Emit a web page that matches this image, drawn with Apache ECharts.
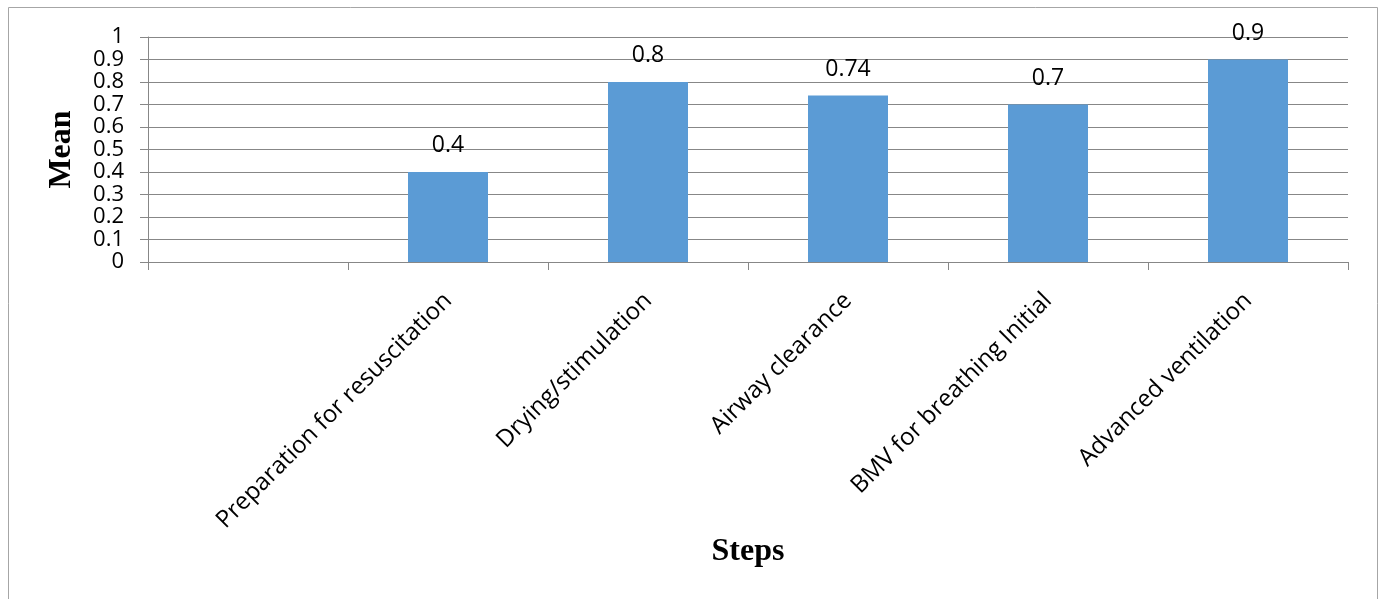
<!DOCTYPE html>
<html><head><meta charset="utf-8">
<script src="https://cdn.jsdelivr.net/npm/echarts@6/dist/echarts.min.js"></script>
<style>html,body{margin:0;padding:0;background:#fff}#c{width:1382px;height:599px}</style>
</head><body><div id="c"></div>
<script>
const categories = ["", "Preparation for resuscitation", "Drying/stimulation", "Airway clearance", "BMV for breathing Initial", "Advanced ventilation"];
const meanValues = [null, 0.4, 0.8, 0.74, 0.7, 0.9];
const yTicks = ["0","0.1","0.2","0.3","0.4","0.5","0.6","0.7","0.8","0.9","1"];

const chart = echarts.init(document.getElementById('c'), null, {renderer:'canvas'});
const grey = '#878787';
chart.setOption({
  animation:false,
  graphic:[{type:'rect', shape:{x:8.5,y:7.5,width:1369,height:600}, style:{fill:null, stroke:'#a6a6a6', lineWidth:1}, silent:true}],
  grid:{left:148, right:34, top:37, bottom:337},
  xAxis:{
    type:'category', data:categories, boundaryGap:true,
    axisLine:{lineStyle:{color:grey,width:1}},
    axisTick:{show:true, length:8, lineStyle:{color:grey}},
    axisLabel:{rotate:45, interval:0, margin:35, color:'#000', fontFamily:'Open Sans', fontSize:24},
    name:'Steps', nameLocation:'middle', nameGap:274,
    nameTextStyle:{fontFamily:'Liberation Serif', fontWeight:'bold', fontSize:32, color:'#000'}
  },
  yAxis:{
    type:'value', min:0, max:1, interval:0.1,
    axisLine:{show:true, lineStyle:{color:grey,width:1}},
    axisTick:{show:true, length:8, lineStyle:{color:grey}},
    splitLine:{show:true, lineStyle:{color:grey,width:1}},
    axisLabel:{color:'#000', fontFamily:'Open Sans', fontSize:22, margin:24, lineHeight:18,
      showMinLabel:true, showMaxLabel:true, hideOverlap:false,
      formatter:function(v){ const i=Math.round(v*10); return yTicks[i]; }},
    name:'Mean', nameLocation:'middle', nameGap:70,
    nameTextStyle:{fontFamily:'Liberation Serif', fontWeight:'bold', fontSize:32, color:'#000'}
  },
  series:[{
    type:'bar', data:meanValues, barWidth:80,
    itemStyle:{color:'#5b9bd5'},
    label:{show:true, position:'top', distance:15, color:'#000', fontFamily:'Open Sans', fontSize:23}
  }]
});
</script></body></html>
